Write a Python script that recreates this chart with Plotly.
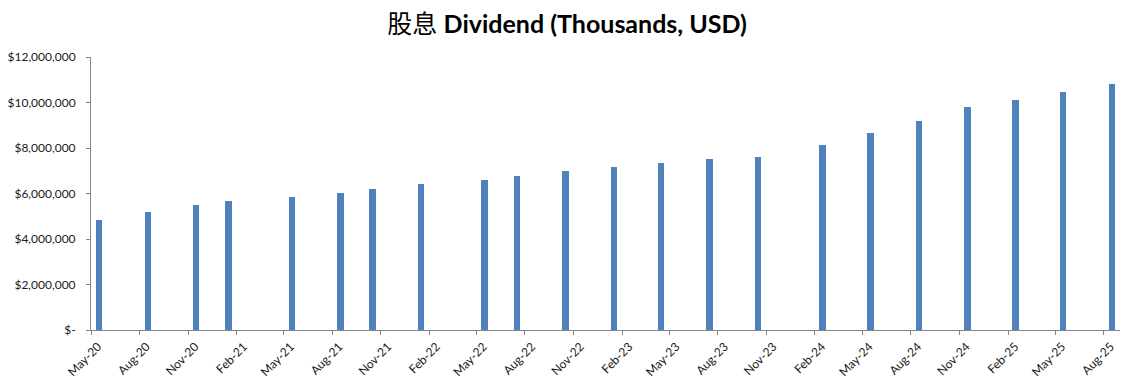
import plotly.graph_objects as go

# Data
pay_months = ["2020-05", "2020-08", "2020-11", "2021-01", "2021-05", "2021-08", "2021-10",
              "2022-01", "2022-05", "2022-07", "2022-10", "2023-01", "2023-04", "2023-07",
              "2023-10", "2024-02", "2024-05", "2024-08", "2024-11", "2025-02", "2025-05",
              "2025-08"]
dividends = [4840000, 5190000, 5500000, 5680000, 5850000, 6030000, 6210000,
             6430000, 6600000, 6780000, 7000000, 7170000, 7350000, 7530000,
             7610000, 8140000, 8670000, 9200000, 9810000, 10120000, 10470000,
             10830000]

x_tick_dates = ["2020-05-01", "2020-08-01", "2020-11-01", "2021-02-01", "2021-05-01",
                "2021-08-01", "2021-11-01", "2022-02-01", "2022-05-01", "2022-08-01",
                "2022-11-01", "2023-02-01", "2023-05-01", "2023-08-01", "2023-11-01",
                "2024-02-01", "2024-05-01", "2024-08-01", "2024-11-01", "2025-02-01",
                "2025-05-01", "2025-08-01"]
x_tick_labels = ["May-20", "Aug-20", "Nov-20", "Feb-21", "May-21", "Aug-21", "Nov-21",
                 "Feb-22", "May-22", "Aug-22", "Nov-22", "Feb-23", "May-23", "Aug-23",
                 "Nov-23", "Feb-24", "May-24", "Aug-24", "Nov-24", "Feb-25", "May-25",
                 "Aug-25"]
y_tick_vals = [0, 2000000, 4000000, 6000000, 8000000, 10000000, 12000000]
y_tick_labels = ["$-", "$2,000,000", "$4,000,000", "$6,000,000", "$8,000,000",
                 "$10,000,000", "$12,000,000"]

DAY_MS = 86400000
TEXT = "#1a1a1a"

fig = go.Figure()
fig.add_trace(go.Bar(
    x=pay_months,
    y=dividends,
    xperiod="M1",
    xperiodalignment="middle",
    width=12.2 * DAY_MS,
    marker=dict(color="#4F81BD", line=dict(width=0)),
    hoverinfo="x+y",
))

fig.update_layout(
    width=1141, height=379,
    margin=dict(l=91, r=21, t=57, b=49, autoexpand=False),
    paper_bgcolor="white",
    plot_bgcolor="white",
    showlegend=False,
    font=dict(family="Lato, 'Noto Sans CJK SC', sans-serif", size=12, color=TEXT),
    title=dict(
        text="股息 <b>Dividend (Thousands, USD)</b>",
        x=0.497, xref="container", xanchor="center",
        y=0.935, yref="container", yanchor="middle",
        font=dict(family="Lato, 'Noto Sans CJK SC', sans-serif", size=25, color="#000000"),
    ),
    xaxis=dict(
        type="date",
        range=["2020-05-01", "2025-09-01"],
        tickmode="array",
        tickvals=x_tick_dates,
        ticktext=x_tick_labels,
        tickangle=-45,
        ticklabelshift=7,
        ticklabelstandoff=0,
        ticks="outside", ticklen=4, tickcolor="#868686", tickwidth=1,
        showline=True, linecolor="#868686", linewidth=1,
        showgrid=False, zeroline=False, automargin=False,
        tickfont=dict(size=12, color=TEXT),
    ),
    yaxis=dict(
        range=[0, 12000000],
        tickmode="array",
        tickvals=y_tick_vals,
        ticktext=y_tick_labels,
        ticklabelstandoff=8,
        ticks="outside", ticklen=4, tickcolor="#868686", tickwidth=1,
        showline=True, linecolor="#868686", linewidth=1,
        showgrid=False, zeroline=False, automargin=False,
        tickfont=dict(size=12, color=TEXT),
    ),
    bargap=0,
)

fig.write_html(
    "out.html",
    config={"displayModeBar": False},
    post_script="document.body.style.margin='0';document.body.style.overflow='hidden';",
)
